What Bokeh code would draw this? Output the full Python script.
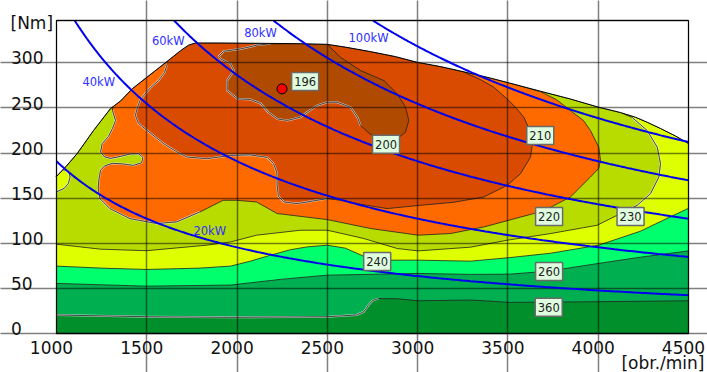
import numpy as np
from bokeh.plotting import figure
from bokeh.models import FixedTicker, Range1d
from bokeh.core.properties import value
from bokeh.embed import file_html
from bokeh.resources import INLINE

FONT = "DejaVu Sans"

# ---------------- data ----------------
x_ticks = [1000, 1500, 2000, 2500, 3000, 3500, 4000, 4500]
y_ticks = [0, 50, 100, 150, 200, 250, 300]
y_max = 347
x_title = "[obr./min]"
y_title = "[Nm]"

# full-load (max torque) curve
env_rpm = [1000, 1058, 1115, 1205, 1299, 1354, 1421, 1498, 1604, 1687, 1731, 1770, 1908, 2130,
           2351, 2499, 2600, 2739, 2877, 2997, 3127, 3274, 3403, 3509, 3680, 3846, 4002, 4123,
           4206, 4271, 4345, 4428, 4500]
env_nm = [174.2, 186.4, 199.7, 225.1, 249.4, 257.7, 271.6, 283.7, 300.3, 313.6, 319.7, 322.1, 322.1, 321.7,
          321.3, 320.6, 317.5, 312.5, 307.0, 300.7, 295.9, 289.3, 283.2, 277.7, 268.6, 260.0, 250.9, 245.0,
          239.8, 234.3, 227.3, 219.0, 210.7]

# 360 g/kWh iso-line
l360_rpm = [1000, 1498, 1964, 2499, 2661, 2702, 2728, 2750, 2783, 2887, 3003, 3293, 3509, 4002, 4500]
l360_nm = [20.5, 18.6, 17.9, 18.6, 20.5, 24.1, 31.5, 36.5, 38.7, 38.5, 36.3, 37.1, 34.5, 35.2, 36.3]

# 260 g/kWh iso-line
l260_rpm = [1000, 1498, 1964, 2241, 2499, 3003, 3293, 3509, 3725, 4002, 4234, 4500]
l260_nm = [55.5, 52.5, 53.7, 60.0, 64.7, 66.6, 65.5, 65.8, 69.1, 77.7, 84.6, 91.6]

# 240 g/kWh iso-line
l240_rpm = [1000, 1244, 1498, 1797, 1964, 2074, 2185, 2296, 2388, 2499, 2600, 2700, 2850, 3003,
            3293, 3509, 3736, 4002, 4234, 4372, 4500]
l240_nm = [74.7, 72.5, 71.0, 72.5, 74.7, 80.2, 86.8, 92.9, 96.0, 97.9, 94.6, 85.7, 81.3, 81.3,
           80.2, 84.1, 89.0, 97.9, 113.4, 126.7, 138.8]

# 230 g/kWh iso-line (from full-load curve, right to left)
l230_rpm = [4188, 4271, 4327, 4345, 4336, 4290, 4216, 4105, 3994, 3736, 3496, 3293, 3003, 2887,
            2702, 2573, 2499, 2351, 2108, 1964, 1831, 1498, 1244, 1000]
l230_nm = [239.5, 225.1, 206.6, 188.3, 173.5, 155.1, 142.1, 131.1, 120.0, 110.8, 103.4, 95.7, 91.6, 94.2,
           105.3, 111.2, 114.5, 114.5, 109.0, 101.5, 97.9, 91.8, 93.5, 99.0]

# small 230-240 pocket at low speed
p230_rpm = [1000, 1035, 1055, 1070, 1075, 1066, 1044, 1000]
p230_nm = [174.2, 181.5, 181.0, 178.0, 173.3, 166.6, 161.1, 157.0]

# 220 g/kWh island (after full-load part)
i220_rpm = [3680, 3769, 3846, 3918, 3957, 4003, 4013, 4003, 3957, 3846, 3736, 3643, 3366, 3182,
            3003, 2739, 2499, 2222, 2108, 1997, 1923, 1794, 1665, 1554, 1406, 1295, 1240, 1231,
            1234, 1244, 1266, 1310, 1366, 1426, 1471, 1479, 1454, 1410, 1354, 1299, 1266, 1244,
            1253, 1288, 1310, 1327, 1310]
i220_nm = [268.1, 259.2, 247.2, 236.2, 225.1, 206.6, 191.9, 183.1, 173.5, 151.3, 139.9, 133.0, 118.1, 110.8,
           109.0, 116.4, 126.3, 133.0, 145.8, 147.7, 147.7, 134.7, 123.7, 121.9, 127.4, 138.5, 149.6, 160.6,
           169.8, 180.9, 185.8, 188.6, 188.1, 186.4, 189.2, 195.2, 199.3, 199.1, 196.3, 194.1, 195.8, 201.1,
           210.4, 218.5, 227.3, 236.2, 247.2]

# 210 g/kWh island (after full-load part)
i210_rpm = [3248, 3348, 3422, 3505, 3548, 3588, 3614, 3634, 3634, 3625, 3570, 3496, 3366, 3200,
            3016, 2831, 2684, 2573, 2499, 2444, 2333, 2259, 2229, 2222, 2220, 2202, 2167, 2074,
            1964, 1835, 1724, 1668, 1594, 1502, 1454, 1437, 1448, 1465, 1521, 1565, 1598, 1609, 1604]
i210_nm = [290.4, 281.5, 273.0, 258.3, 249.4, 239.8, 228.4, 217.7, 207.4, 195.6, 177.2, 164.3, 151.3, 145.5,
           142.1, 138.5, 143.3, 147.7, 149.6, 147.7, 144.0, 145.8, 152.1, 164.3, 178.7, 188.3, 195.2, 198.0,
           197.5, 193.8, 195.6, 201.1, 210.4, 225.1, 232.9, 241.7, 250.6, 259.4, 272.7, 280.4, 289.3, 295.9, 300.3]

# 200 g/kWh island
i200_rpm = [1899, 1925, 2019, 2111, 2185, 2351, 2499, 2573, 2684, 2813, 2887, 2933, 2951, 2933,
            2887, 2813, 2739, 2684, 2667, 2628, 2554, 2499, 2444, 2388, 2351, 2279, 2224, 2174,
            2130, 2074, 2001, 1945, 1945, 1982, 1964, 1908]
i200_nm = [307.3, 312.8, 315.5, 319.7, 321.1, 321.3, 320.6, 306.2, 291.5, 280.4, 265.7, 250.9, 236.2, 223.2,
           215.9, 214.0, 220.7, 230.6, 239.5, 250.9, 256.4, 256.4, 252.8, 245.4, 239.8, 236.2, 237.8, 245.0,
           255.0, 259.4, 260.2, 269.4, 280.4, 291.5, 298.9, 304.4]

# constant power lines
power_kw = [20, 40, 60, 80, 100]
power_label_rpm = [1849, 1234, 1619, 2130, 2728]
power_label_nm = [113.6, 279.0, 324.7, 333.0, 327.4]

# bsfc labels [g/kWh]
bsfc_text = ["196", "200", "210", "220", "230", "240", "260", "360"]
bsfc_rpm = [2377, 2825, 3679, 3728, 4179, 2776, 3728, 3726]
bsfc_nm = [279.5, 209.8, 219.6, 129.6, 129.6, 79.9, 68.8, 29.1]

best_rpm = [2249]
best_nm = [271.2]

# ---------------- colours ----------------
C_BASE = "#008f2b"
C_360 = "#00b050"
C_260 = "#00ff6c"
C_240 = "#ddff00"
C_230 = "#b8dc00"
C_220 = "#ff6a00"
C_210 = "#d94b00"
C_200 = "#b04a00"

# ---------------- layout (pixels) ----------------
W, H = 707, 372
FL, FR, FT, FB = 56, 688, 20, 333
RPM_PX = (x_ticks[-1] - x_ticks[0]) / (FR - FL)
NM_PX = y_max / (FB - FT)
x_lo = x_ticks[0] - FL * RPM_PX
x_hi = x_ticks[-1] + (W - FR) * RPM_PX
y_lo = 0 - (H - FB) * NM_PX
y_hi = y_max + FT * NM_PX


def env_between(lo, hi):
    xs, ys = [], []
    for r, t in zip(env_rpm, env_nm):
        if lo < r < hi:
            xs.append(r)
            ys.append(t)
    return xs, ys


p = figure(width=W, height=H, x_range=Range1d(x_lo, x_hi), y_range=Range1d(y_lo, y_hi),
           output_backend="svg", toolbar_location=None,
           min_border_left=0, min_border_right=0, min_border_top=0, min_border_bottom=0)
p.background_fill_color = "white"
p.border_fill_color = "white"
p.outline_line_color = None
p.xaxis.visible = False
p.yaxis.visible = False

LW = 0.8
LC = "#222222"

# base (whole operating area)
p.patch(env_rpm + [x_ticks[-1], x_ticks[0]], env_nm + [0, 0], fill_color=C_BASE, line_color=LC, line_width=LW)
for lx, ly, col in [(l360_rpm, l360_nm, C_360), (l260_rpm, l260_nm, C_260), (l240_rpm, l240_nm, C_240)]:
    p.patch(lx + env_rpm[::-1], ly + env_nm[::-1], fill_color=col, line_color=LC, line_width=LW)

ex, ey = env_between(0, 4150)
p.patch(ex + l230_rpm, ey + l230_nm, fill_color=C_230, line_color=LC, line_width=LW)
p.patch(p230_rpm, p230_nm, fill_color=C_240, line_color=LC, line_width=LW)

ex, ey = env_between(1310, 3680)
p.patch([1310] + ex + i220_rpm, [251] + ey + i220_nm, fill_color=C_220, line_color=LC, line_width=LW)

ex, ey = env_between(1600, 3248)
p.patch(ex + i210_rpm, ey + i210_nm, fill_color=C_210, line_color=LC, line_width=LW)

p.patch(i200_rpm, i200_nm, fill_color=C_200, line_color=LC, line_width=LW)

# light embossed edges on some iso-lines
edges = [
    (l360_rpm[:9], l360_nm[:9]),
    (l230_rpm[:8], l230_nm[:8]),
    (p230_rpm[1:], p230_nm[1:]),
    (i220_rpm[21:], i220_nm[21:]),
    (i210_rpm[18:], i210_nm[18:]),
    (i200_rpm[17:] + i200_rpm[:5], i200_nm[17:] + i200_nm[:5]),
]
for ex_, ey_ in edges:
    p.line(ex_, ey_, line_color="white", line_alpha=0.7, line_width=2.0, line_join="round")
for ex_, ey_ in edges:
    p.line(ex_, ey_, line_color=LC, line_width=LW, line_join="round")

# white area above full-load curve
p.patch(env_rpm + [x_ticks[-1], x_ticks[0]], env_nm + [y_max, y_max], fill_color="white",
        line_color="black", line_width=1)

# grid above the fills (y grid extends left as tick marks)
p.xgrid.ticker = FixedTicker(ticks=x_ticks[1:-1])
p.ygrid.ticker = FixedTicker(ticks=y_ticks)
p.xgrid.bounds = (0, y_max)
p.ygrid.bounds = (x_ticks[0] - 9 * RPM_PX, x_ticks[-1])
for g in (p.xgrid, p.ygrid):
    g.grid_line_color = "black"
    g.grid_line_alpha = 0.5
    g.grid_line_width = 1.5
    g.level = "guide"

# constant power lines  T = P / omega
for P in power_kw:
    n_start = max(x_ticks[0], P * 60000.0 / (2 * np.pi * y_max))
    n = np.linspace(n_start, x_ticks[-1], 300)
    t = P * 60000.0 / (2 * np.pi * n)
    r = p.line(n, t, line_color="#0000ee", line_width=2)
    r.level = "annotation"

rt = p.text(power_label_rpm, power_label_nm, text=[f"{k}kW" for k in power_kw],
            text_align="center", text_baseline="middle", text_color="#2f2fff",
            text_font=value(FONT), text_font_size="11.5px")
rt.level = "annotation"

# best point
rd = p.scatter(best_rpm, best_nm, size=10, fill_color="#ff0000", line_color="black", line_width=1)
rd.level = "annotation"

# bsfc labels
rb = p.rect(bsfc_rpm, bsfc_nm, width=27, height=18, width_units="screen", height_units="screen",
            fill_color="#e0fde0", line_color="#6a6a6a", line_width=1.5)
rb.level = "annotation"
rbt = p.text(bsfc_rpm, bsfc_nm, text=bsfc_text, text_align="center", text_baseline="middle",
             text_color="#222222", text_font=value(FONT), text_font_size="11.5px")
rbt.level = "annotation"

# frame around the data area
rf = p.quad(left=[x_ticks[0]], right=[x_ticks[-1]], bottom=[0], top=[y_max], fill_color=None,
            line_color="black", line_alpha=0.8, line_width=1.3)
rf.level = "annotation"

# axis tick labels and titles
ryl = p.text([x_ticks[0] - 45.5 * RPM_PX] * len(y_ticks), [v + 4.9 * NM_PX for v in y_ticks],
             text=[str(v) for v in y_ticks], text_align="left", text_baseline="middle",
             text_color="#111111", text_font=value(FONT), text_font_size="17px")
rxl = p.text([v - 5 * RPM_PX for v in x_ticks], [0 - 13.5 * NM_PX] * len(x_ticks),
             text=[str(v) for v in x_ticks], text_align="center", text_baseline="middle",
             text_color="#111111", text_font=value(FONT), text_font_size="17px")
ryt = p.text([x_ticks[0] - 46 * RPM_PX], [y_max - 2 * NM_PX], text=[y_title], text_align="left",
             text_baseline="middle", text_color="#111111", text_font=value(FONT), text_font_size="17px")
rxt = p.text([x_ticks[-1] + 16 * RPM_PX], [0 - 29 * NM_PX], text=[x_title], text_align="right",
             text_baseline="middle", text_color="#111111", text_font=value(FONT), text_font_size="17px")
for r in (ryl, rxl, ryt, rxt):
    r.level = "annotation"

open("out.html", "w").write(file_html(p, INLINE))
